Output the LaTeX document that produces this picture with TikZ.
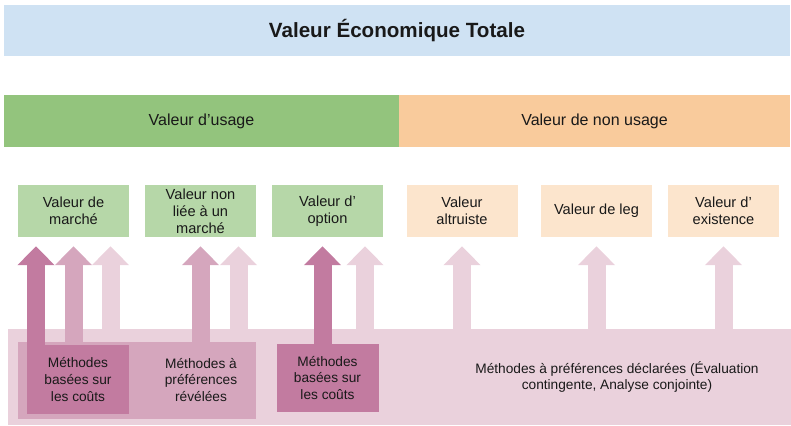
\documentclass[tikz,border=0pt]{standalone}
\usepackage{fontspec}
\setmainfont{Liberation Sans}
\usepackage{tikz}
\usetikzlibrary{arrows.meta}
\usetikzlibrary{calc}
\definecolor{bleu}{HTML}{CFE2F3}
\definecolor{vert}{HTML}{93C47D}
\definecolor{vertclair}{HTML}{B6D7A8}
\definecolor{orange}{HTML}{F9CB9C}
\definecolor{orangeclair}{HTML}{FCE5CD}
\definecolor{fonce}{HTML}{C27BA0}
\definecolor{moyen}{HTML}{D5A6BD}
\definecolor{clair}{HTML}{EAD1DC}
\tikzset{bloc/.style = {inner sep=0pt, align=center, text=black!90,
                        font=\fontsize{13.7}{16.8}\selectfont},
         petit/.style = {bloc, minimum width=111pt, minimum height=52pt, fill=#1,
                         font=\fontsize{14.6}{16.8}\selectfont},
         fleche/.style = {draw=#1, line width=18pt,
                          -{Triangle[width=36pt, length=19pt]}}}

\begin{document}
\begin{tikzpicture}[x=1pt, y=-1pt]
    \useasboundingbox (0, 0) rectangle (791, 425);
    \node [bloc, fill=bleu, minimum width=786pt, minimum height=51pt,
           font=\fontsize{20.6}{24}\selectfont\bfseries] (vet) at (397, 30.5) {Valeur Économique Totale};
    \node [bloc, fill=vert, minimum width=395pt, minimum height=52pt,
           font=\fontsize{16}{19}\selectfont] (usage) at (201.5, 121) {Valeur d’usage};
    \node [bloc, fill=orange, minimum width=391pt, minimum height=52pt,
           font=\fontsize{16}{19}\selectfont] (nonusage) at (594.5, 121) {Valeur de non usage};
    \node [petit=vertclair] (marche) at (73.5, 211) {Valeur de\\marché};
    \node [petit=vertclair] (nonmarche) at (200.5, 211) {Valeur non\\liée à un\\marché};
    \node [petit=vertclair] (option) at (327.5, 211) {Valeur d’\\option};
    \node [petit=orangeclair] (altruiste) at (462, 211) {Valeur\\altruiste};
    \node [petit=orangeclair] (leg) at (596.5, 211) {Valeur de leg};
    \node [petit=orangeclair] (existence) at (723.5, 211) {Valeur d’\\existence};
    \node [bloc, fill=clair, minimum width=783pt, minimum height=96pt] (decl) at (399.5, 377) {};
    \node [bloc, fill=moyen, minimum width=238pt, minimum height=77pt] (revel) at (137, 380.5) {};
    \draw [fleche=clair] ($(decl.north -| marche.south)+(37,0)$) -- ($(marche.south)+(37,9)$);
    \draw [fleche=clair] ($(decl.north -| nonmarche.south)+(38,0)$) -- ($(nonmarche.south)+(38,9)$);
    \draw [fleche=clair] ($(decl.north -| option.south)+(37.5,0)$) -- ($(option.south)+(37.5,9)$);
    \foreach \b in {altruiste, leg, existence} {
      \draw [fleche=clair] (decl.north -| \b.south) -- ($(\b.south)+(0,9)$);
    }
    \draw [fleche=moyen] (revel.north -| marche.south) -- ($(marche.south)+(0,9)$);
    \draw [fleche=moyen] (revel.north -| nonmarche.south) -- ($(nonmarche.south)+(0,9)$);
    \node [bloc, fill=fonce, minimum width=102pt, minimum height=69pt] (cout1) at (78, 379.5)
      {Méthodes\\basées sur\\les coûts};
    \node [bloc, fill=fonce, minimum width=102pt, minimum height=68pt] (cout2) at (327.5, 378)
      {Méthodes\\basées sur\\les coûts};
    \draw [fleche=fonce] ($(cout1.north -| marche.south)+(-37.5,0)$) -- ($(marche.south)+(-37.5,9)$);
    \draw [fleche=fonce] ($(cout2.north -| option.south)+(-5,0)$) -- ($(option.south)+(-5,9)$);
    \node [bloc] (reveltxt) at (201, 380) {Méthodes à\\préférences\\révélées};
    \node [bloc] (decltxt) at (617, 377) {Méthodes à préférences déclarées (Évaluation\\contingente, Analyse conjointe)};
  \end{tikzpicture}
\end{document}
